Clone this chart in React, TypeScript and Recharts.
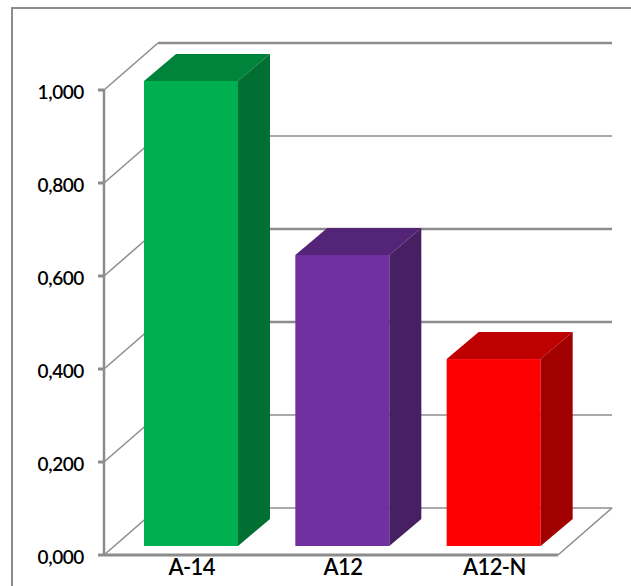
import React from 'react';
import { Bar, BarChart, CartesianGrid, Cell, XAxis, YAxis } from 'recharts';

const categories = ['A-14', 'A12', 'A12-N'];
const values = [1.0, 0.626, 0.402];
const yTicks = [0, 0.2, 0.4, 0.6, 0.8, 1];

const frontColors = ['#00b050', '#7030a0', '#ff0000'];
const topColors = ['#00843c', '#542478', '#bf0000'];
const sideColors = ['#006f32', '#472063', '#a00000'];

const data = categories.map((name, i) => ({ name, value: values[i] }));

const GRID = '#8c8c8c';
// Depth of the back wall and of the bars, in pixels
const WALL_DX = 54;
const WALL_DY = 47;
const BAR_DX = 32;
const BAR_DY = 27;
// Bars stand a little behind the front edge of the floor
const INSET_DX = 11;
const INSET_DY = 9;
const FLOOR_Y = 555;

// Wall lines at 1,000, 0,600 and 0,400 are drawn heavier
const heavyLines = [1, 0.6, 0.4];

const WallLine = (props: any) => {
  const { x1, x2, y1, index } = props;
  const right = x2 + WALL_DX;
  const isFloor = Math.abs(y1 - FLOOR_Y) < 1;
  const tickValue = (FLOOR_Y - y1) / (FLOOR_Y - 90);
  const heavy = heavyLines.some(v => Math.abs(v - tickValue) < 0.01);
  return (
    <g key={`wall-${index}`}>
      <line x1={x1} y1={y1} x2={x1 + WALL_DX} y2={y1 - WALL_DY} stroke={GRID} strokeWidth={1.5} />
      <line
        x1={x1 + WALL_DX}
        y1={y1 - WALL_DY}
        x2={right}
        y2={y1 - WALL_DY}
        stroke={GRID}
        strokeWidth={heavy ? 2.5 : 1.5}
      />
      {isFloor && <line x1={x2} y1={y1} x2={right} y2={y1 - WALL_DY} stroke={GRID} strokeWidth={1.5} />}
    </g>
  );
};

const Box = (props: any) => {
  const { x, y, width, height, index } = props;
  const left = x + INSET_DX;
  const right = left + width;
  const top = y - INSET_DY;
  const bottom = top + height;
  return (
    <g>
      <rect x={left} y={top} width={width} height={height} fill={frontColors[index]} />
      <polygon
        points={`${left},${top} ${left + BAR_DX},${top - BAR_DY} ${right + BAR_DX},${top - BAR_DY} ${right},${top}`}
        fill={topColors[index]}
      />
      <polygon
        points={`${right},${top} ${right + BAR_DX},${top - BAR_DY} ${right + BAR_DX},${bottom - BAR_DY} ${right},${bottom}`}
        fill={sideColors[index]}
      />
    </g>
  );
};

const App = () => (
  <div style={{ position: 'absolute', left: 0, top: 0, width: 631, height: 586, background: '#fff', overflow: 'hidden' }}>
    <div style={{ position: 'absolute', left: 11, top: 7, width: 640, height: 600, border: '2px solid #8c8c8c' }} />
    <BarChart
      width={631}
      height={586}
      data={data}
      margin={{ top: 90, right: 73, bottom: 0, left: 0 }}
      style={{ position: 'absolute', left: 0, top: 0 }}
    >
      <CartesianGrid vertical={false} horizontal={WallLine} />
      <XAxis
        dataKey="name"
        height={31}
        tickLine={false}
        axisLine={{ stroke: GRID, strokeWidth: 3 }}
        dx={12}
        dy={-4}
        tick={{ fontFamily: 'Lato', fontSize: 22, fontWeight: 600, letterSpacing: -0.6, fill: '#000' }}
        interval={0}
      />
      <YAxis
        width={104}
        domain={[0, 1]}
        ticks={yTicks}
        tickFormatter={(v: number) => v.toFixed(3).replace('.', ',')}
        tickLine={{ stroke: GRID, strokeWidth: 3 }}
        tickSize={6}
        axisLine={{ stroke: GRID, strokeWidth: 2.5 }}
        dx={-12}
        dy={2}
        tick={{ fontFamily: 'Lato', fontSize: 19, fontWeight: 600, letterSpacing: -0.4, fill: '#000' }}
        interval={0}
      />
      <Bar dataKey="value" barSize={94} shape={Box} isAnimationActive={false}>
        {data.map((d, i) => (
          <Cell key={d.name} fill={frontColors[i]} />
        ))}
      </Bar>
    </BarChart>
  </div>
);

export default App;
